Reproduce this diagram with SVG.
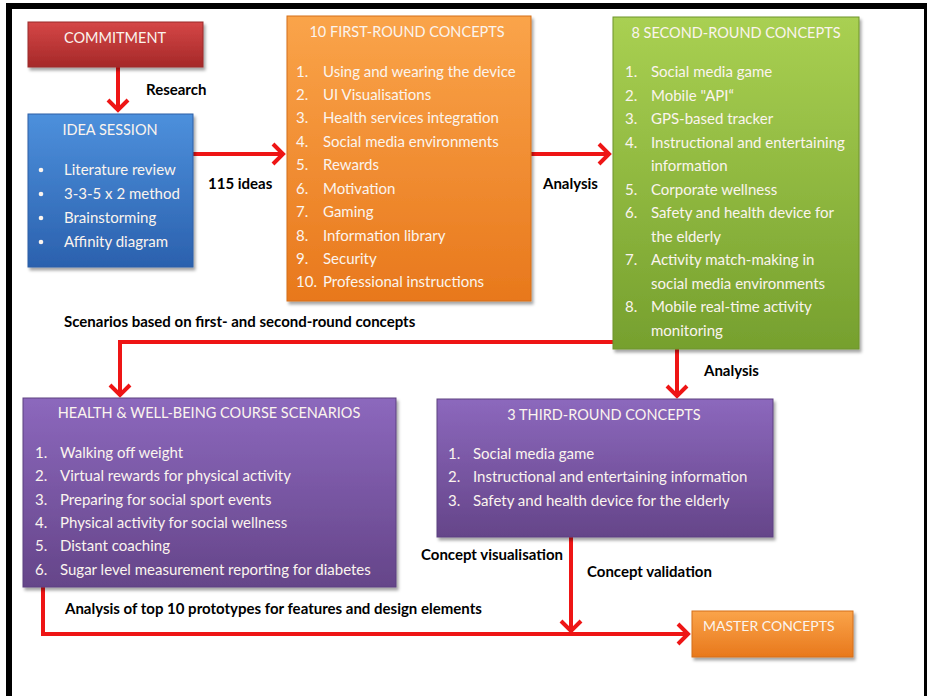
<svg xmlns="http://www.w3.org/2000/svg" width="927" height="696" viewBox="0 0 927 696">
  <style>
    .box { stroke-width: 1; }
    .title { font-family: Lato, "Liberation Sans", sans-serif; font-size: 14.5px; fill: #fbf4ee; text-anchor: middle; }
    .item { font-family: Lato, "Liberation Sans", sans-serif; font-size: 15px; fill: #fbf4ee; }
    .master { font-family: Lato, "Liberation Sans", sans-serif; font-size: 14px; fill: #fbf4ee; }
    .label { font-family: Lato, "Liberation Sans", sans-serif; font-size: 15px; font-weight: bold; fill: #000; }
    .flow { fill: none; stroke: #ee1515; stroke-width: 4; }
  </style>
  <defs>
    <linearGradient id="gRed" x1="0" y1="0" x2="0" y2="1">
      <stop offset="0" stop-color="#d54747"/>
      <stop offset="1" stop-color="#a52828"/>
    </linearGradient>
    <linearGradient id="gBlue" x1="0" y1="0" x2="0" y2="1">
      <stop offset="0" stop-color="#4d90dc"/>
      <stop offset="1" stop-color="#2b61ae"/>
    </linearGradient>
    <linearGradient id="gOrange" x1="0" y1="0" x2="0" y2="1">
      <stop offset="0" stop-color="#faa44a"/>
      <stop offset="1" stop-color="#e8781c"/>
    </linearGradient>
    <linearGradient id="gGreen" x1="0" y1="0" x2="0" y2="1">
      <stop offset="0" stop-color="#a9d052"/>
      <stop offset="1" stop-color="#76a02e"/>
    </linearGradient>
    <linearGradient id="gPurple" x1="0" y1="0" x2="0" y2="1">
      <stop offset="0" stop-color="#8c68bd"/>
      <stop offset="1" stop-color="#654589"/>
    </linearGradient>
    <filter id="shadow" x="-10%" y="-10%" width="125%" height="130%">
      <feDropShadow dx="2" dy="3" stdDeviation="1.6" flood-color="#000" flood-opacity="0.35"/>
    </filter>
    <marker id="head" markerUnits="userSpaceOnUse" markerWidth="26" markerHeight="26" refX="14" refY="12" orient="auto">
      <path d="M3,2 L13,12 L3,22" fill="none" stroke="#ee1515" stroke-width="4" stroke-linejoin="miter"/>
    </marker>
  </defs>

  <rect x="0" y="0" width="927" height="696" fill="#fff"/>

  <!-- frame -->
  <g id="frame" fill="#000">
    <rect x="6" y="3" width="921" height="6"/>
    <rect x="6" y="3" width="6" height="693"/>
    <rect x="924" y="3" width="3" height="693"/>
  </g>

  <!-- connectors -->
  <g id="connectors">
    <path class="flow" d="M118,66 V111" marker-end="url(#head)"/>
    <path class="flow" d="M193,154 H284" marker-end="url(#head)"/>
    <path class="flow" d="M531,154 H610" marker-end="url(#head)"/>
    <path class="flow" d="M613,342 H120 V396" marker-end="url(#head)"/>
    <path class="flow" d="M677,349 V397" marker-end="url(#head)"/>
    <path class="flow" d="M571,537 V632" marker-end="url(#head)"/>
    <path class="flow" d="M43,587 V634 H689" marker-end="url(#head)"/>
    <text class="label" x="146" y="95">Research</text>
    <text class="label" x="208" y="189">115 ideas</text>
    <text class="label" x="543" y="189">Analysis</text>
    <text class="label" x="64" y="327">Scenarios based on first- and second-round concepts</text>
    <text class="label" x="704" y="376">Analysis</text>
    <text class="label" x="421" y="560">Concept visualisation</text>
    <text class="label" x="587" y="577">Concept validation</text>
    <text class="label" x="65" y="614">Analysis of top 10 prototypes for features and design elements</text>
  </g>

  <g id="commitment">
    <rect class="box" x="28" y="22" width="175" height="45" fill="url(#gRed)" stroke="#9a2a2a" filter="url(#shadow)"/>
    <text class="title" x="115" y="43">COMMITMENT</text>
  </g>

  <g id="idea-session">
    <rect class="box" x="28" y="114" width="165" height="153" fill="url(#gBlue)" stroke="#2d5fa6" filter="url(#shadow)"/>
    <text class="title" x="110" y="135">IDEA SESSION</text>
    <g class="item">
      <circle cx="41" cy="170" r="2.3" fill="#fbf4ee"/>
      <text x="64" y="175">Literature review</text>
      <circle cx="41" cy="194" r="2.3" fill="#fbf4ee"/>
      <text x="64" y="199">3-3-5 x 2 method</text>
      <circle cx="41" cy="218" r="2.3" fill="#fbf4ee"/>
      <text x="64" y="223">Brainstorming</text>
      <circle cx="41" cy="242" r="2.3" fill="#fbf4ee"/>
      <text x="64" y="247">Affinity diagram</text>
    </g>
  </g>

  <g id="first-round">
    <rect class="box" x="287" y="16" width="244" height="285" fill="url(#gOrange)" stroke="#d46e1c" filter="url(#shadow)"/>
    <text class="title" x="407" y="37">10 FIRST-ROUND CONCEPTS</text>
    <g class="item">
      <text x="296" y="77">1.</text><text x="323" y="77">Using and wearing the device</text>
      <text x="296" y="100">2.</text><text x="323" y="100">UI Visualisations</text>
      <text x="296" y="123">3.</text><text x="323" y="123">Health services integration</text>
      <text x="296" y="147">4.</text><text x="323" y="147">Social media environments</text>
      <text x="296" y="170">5.</text><text x="323" y="170">Rewards</text>
      <text x="296" y="194">6.</text><text x="323" y="194">Motivation</text>
      <text x="296" y="217">7.</text><text x="323" y="217">Gaming</text>
      <text x="296" y="241">8.</text><text x="323" y="241">Information library</text>
      <text x="296" y="264">9.</text><text x="323" y="264">Security</text>
      <text x="296" y="287">10.</text><text x="323" y="287">Professional instructions</text>
    </g>
  </g>

  <g id="second-round">
    <rect class="box" x="613" y="17" width="246" height="332" fill="url(#gGreen)" stroke="#6e942c" filter="url(#shadow)"/>
    <text class="title" x="736" y="38">8 SECOND-ROUND CONCEPTS</text>
    <g class="item">
      <text x="625" y="77">1.</text><text x="651" y="77">Social media game</text>
      <text x="625" y="101">2.</text><text x="651" y="101">Mobile "API“</text>
      <text x="625" y="124">3.</text><text x="651" y="124">GPS-based tracker</text>
      <text x="625" y="148">4.</text><text x="651" y="148">Instructional and entertaining</text>
      <text x="651" y="171">information</text>
      <text x="625" y="195">5.</text><text x="651" y="195">Corporate wellness</text>
      <text x="625" y="218">6.</text><text x="651" y="218">Safety and health device for</text>
      <text x="651" y="242">the elderly</text>
      <text x="625" y="265">7.</text><text x="651" y="265">Activity match-making in</text>
      <text x="651" y="289">social media environments</text>
      <text x="625" y="312">8.</text><text x="651" y="312">Mobile real-time activity</text>
      <text x="651" y="336">monitoring</text>
    </g>
  </g>

  <g id="scenarios">
    <rect class="box" x="23" y="398" width="373" height="189" fill="url(#gPurple)" stroke="#5c4080" filter="url(#shadow)"/>
    <text class="title" x="209" y="418">HEALTH &amp; WELL-BEING COURSE SCENARIOS</text>
    <g class="item">
      <text x="35" y="458">1.</text><text x="60" y="458">Walking off weight</text>
      <text x="35" y="481">2.</text><text x="60" y="481">Virtual rewards for physical activity</text>
      <text x="35" y="505">3.</text><text x="60" y="505">Preparing for social sport events</text>
      <text x="35" y="528">4.</text><text x="60" y="528">Physical activity for social wellness</text>
      <text x="35" y="551">5.</text><text x="60" y="551">Distant coaching</text>
      <text x="35" y="575">6.</text><text x="60" y="575">Sugar level measurement reporting for diabetes</text>
    </g>
  </g>

  <g id="third-round">
    <rect class="box" x="437" y="399" width="336" height="138" fill="url(#gPurple)" stroke="#5c4080" filter="url(#shadow)"/>
    <text class="title" x="604" y="420">3 THIRD-ROUND CONCEPTS</text>
    <g class="item">
      <text x="448" y="459">1.</text><text x="473" y="459">Social media game</text>
      <text x="448" y="482">2.</text><text x="473" y="482">Instructional and entertaining information</text>
      <text x="448" y="506">3.</text><text x="473" y="506">Safety and health device for the elderly</text>
    </g>
  </g>

  <g id="master-concepts">
    <rect class="box" x="692" y="611" width="161" height="46" fill="url(#gOrange)" stroke="#d46e1c" filter="url(#shadow)"/>
    <text class="master" x="703" y="631">MASTER CONCEPTS</text>
  </g>
</svg>
